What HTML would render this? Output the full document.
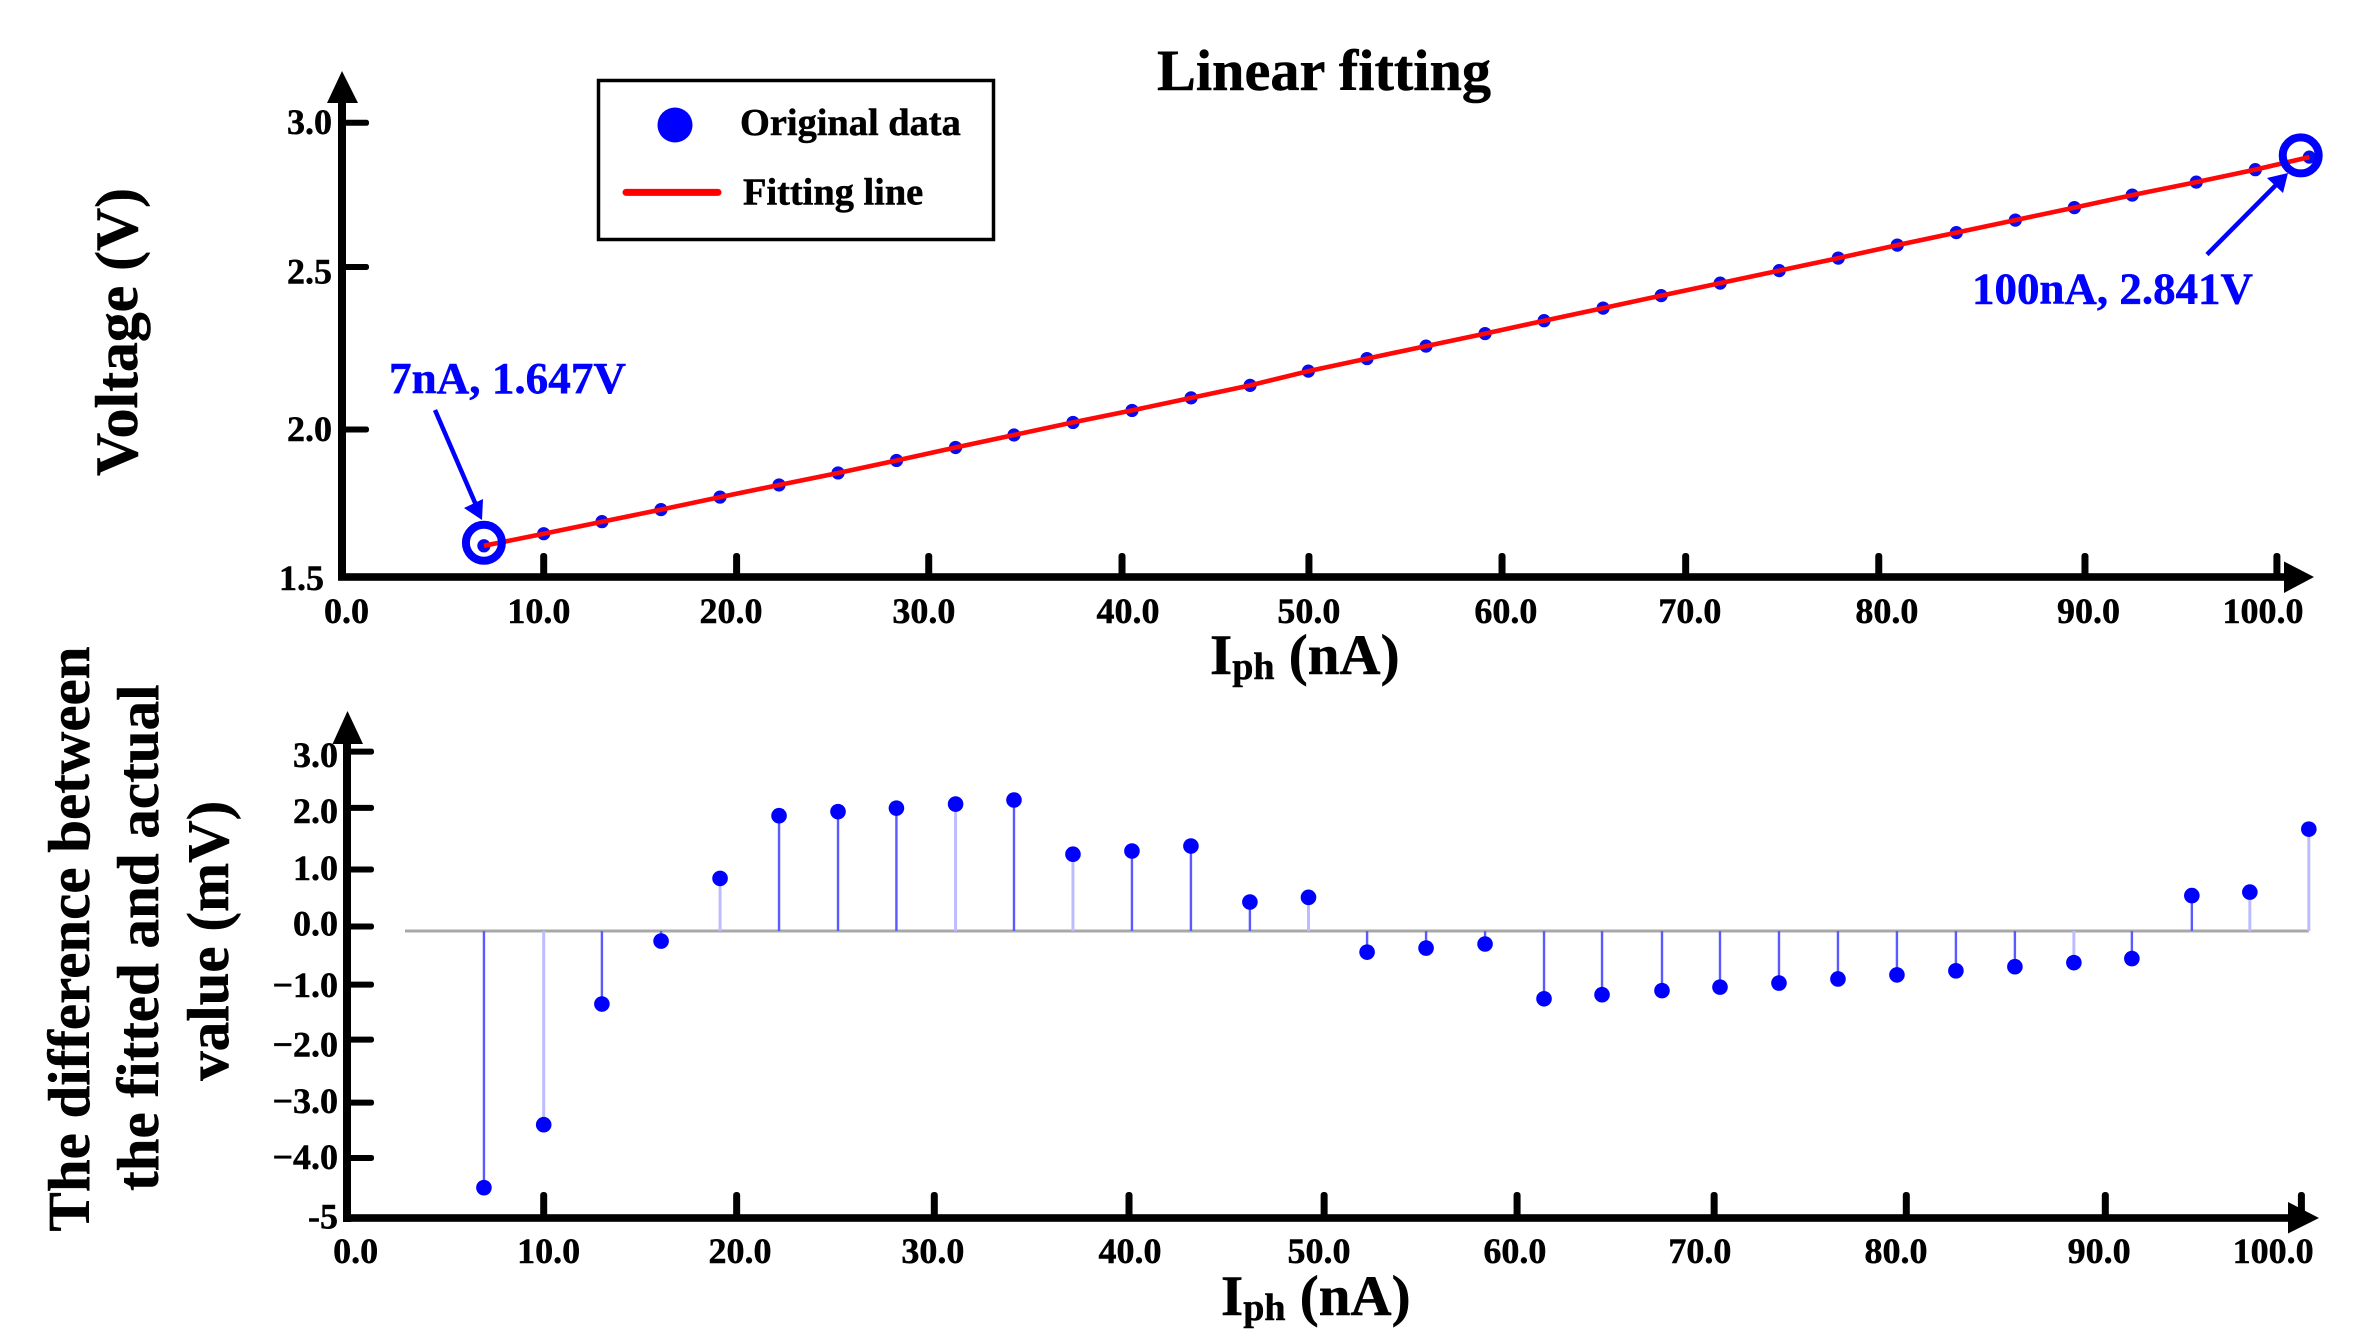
<!DOCTYPE html>
<html>
<head>
<meta charset="utf-8">
<title>Linear fitting</title>
<style>
html,body{margin:0;padding:0;background:#fff;width:2362px;height:1340px;overflow:hidden}
svg{display:block}
text{font-family:"Liberation Serif",serif;font-weight:bold;fill:#000;stroke:#000;stroke-width:.5px}
</style>
</head>
<body>
<svg id="chart" xmlns="http://www.w3.org/2000/svg" width="2362" height="1340" viewBox="0 0 2362 1340">
  <rect x="0" y="0" width="2362" height="1340" fill="#fff"/>
  <text x="1157" y="90" font-size="58" textLength="334" lengthAdjust="spacingAndGlyphs">Linear fitting</text>

  <g id="top-panel"></g>
  <rect x="338" y="100" width="8" height="480" fill="#000"/>
  <polygon points="342,71 358,103 327,103" fill="#000"/>
  <rect x="338" y="573.2" width="1950" height="7.6" fill="#000"/>
  <polygon points="2284,561.5 2314,577 2284,593" fill="#000"/>
  <text transform="translate(137,476) rotate(-90)" font-size="60" textLength="288" lengthAdjust="spacingAndGlyphs">Voltage (V)</text>
  <text x="1210" y="674" font-size="57">I<tspan font-size="38" dy="5">ph</tspan><tspan dy="-5"> (nA)</tspan></text>

  <g>
    <rect x="598.5" y="80.5" width="395" height="159" fill="#fff" stroke="#000" stroke-width="3.5"/>
    <circle cx="675" cy="125" r="17.5" fill="#0000ff"/>
    <text x="740" y="134.8" font-size="38.4">Original data</text>
    <line x1="626" y1="192.4" x2="718" y2="192.4" stroke="#ff0000" stroke-width="7" stroke-linecap="round"/>
    <text x="743" y="204.5" font-size="38.4">Fitting line</text>
  </g>

  <g id="annotations">
    <text x="389" y="393" font-size="44.8" style="fill:#0000ff;stroke:#0000ff" textLength="237" lengthAdjust="spacingAndGlyphs">7nA, 1.647V</text>
    <line x1="435" y1="410" x2="476" y2="505" stroke="#0000ff" stroke-width="4.5"/>
    <polygon points="482,520 464,508 483,499" fill="#0000ff"/>
    <text x="1972" y="303.6" font-size="44.8" style="fill:#0000ff;stroke:#0000ff" textLength="281" lengthAdjust="spacingAndGlyphs">100nA, 2.841V</text>
    <line x1="2207" y1="254.5" x2="2276" y2="185" stroke="#0000ff" stroke-width="4.5"/>
    <polygon points="2288,173 2267,178 2283,193" fill="#0000ff"/>
  </g>

  <g id="bottom-panel"></g>
  <rect x="343" y="741" width="8" height="481" fill="#000"/>
  <polygon points="347.5,711 363,744 332.5,744" fill="#000"/>
  <rect x="343" y="1214.2" width="1950" height="7.6" fill="#000"/>
  <polygon points="2288,1202 2319,1218 2288,1233.5" fill="#000"/>
  <g>
    <text transform="translate(89,1231.5) rotate(-90)" font-size="58.8" textLength="585" lengthAdjust="spacingAndGlyphs">The difference between</text>
    <text transform="translate(158,1191) rotate(-90)" font-size="58.8" textLength="506.5" lengthAdjust="spacingAndGlyphs">the fitted and actual</text>
    <text transform="translate(228,1080.7) rotate(-90)" font-size="58.8" textLength="280" lengthAdjust="spacingAndGlyphs">value (mV)</text>
  </g>
  <text x="1221" y="1315" font-size="57">I<tspan font-size="38" dy="5">ph</tspan><tspan dy="-5"> (nA)</tspan></text>
</svg>

<script>
// ---- Top panel data ----
const currentNA = [6.9,10.0,13.02,16.08,19.14,22.2,25.26,28.29,31.35,34.38,37.44,40.5,43.56,46.62,49.64,52.68,55.74,58.8,61.86,64.92,67.93,70.99,74.05,77.11,80.17,83.23,86.29,89.35,92.35,95.67,98.73,101.53];
const voltageV = [1.6025,1.6424,1.6822,1.7221,1.7634,1.8034,1.8431,1.8844,1.9273,1.9685,2.01,2.0497,2.0911,2.1324,2.1795,2.221,2.2622,2.3036,2.3463,2.3878,2.429,2.4703,2.5116,2.553,2.5959,2.6371,2.6785,2.7198,2.7611,2.804,2.8452,2.8866];
const fittedV = [1.6025,1.6424,1.6822,1.7221,1.7634,1.8034,1.8431,1.8844,1.9273,1.9685,2.01,2.0497,2.0911,2.1324,2.1795,2.221,2.2622,2.3036,2.3463,2.3878,2.429,2.4703,2.5116,2.553,2.5959,2.6371,2.6785,2.7198,2.7611,2.804,2.8452,2.8866];
const topXTicks = [10,20,29.96,39.98,49.67,59.68,69.2,79.21,89.9,99.85];
const topXLabels = ["0.0","10.0","20.0","30.0","40.0","50.0","60.0","70.0","80.0","90.0","100.0"];
const topXLabelAt = [-0.22,9.75,19.71,29.71,40.29,49.67,59.88,69.42,79.63,90.08,99.13];
const topYTicks = [3.0,2.5235,1.9867];
const topYLabels = ["3.0","2.5","2.0","1.5"];
const topYLabelAt = [3.003,2.509,1.988,1.496];

// ---- Bottom panel data ----
const diffCurrentNA = [6.94,10.0,12.98,16.01,19.03,22.05,25.07,28.06,31.09,34.08,37.1,40.12,43.14,46.16,49.16,52.16,55.18,58.2,61.22,64.19,67.26,70.23,73.25,76.27,79.29,82.31,85.33,88.35,91.32,94.39,97.36,100.38];
const diffMV = [-4.48,-3.4,-1.33,-0.25,0.825,1.9,1.97,2.03,2.1,2.17,1.24,1.295,1.38,0.42,0.5,-0.44,-0.37,-0.3,-1.24,-1.17,-1.1,-1.04,-0.97,-0.9,-0.83,-0.76,-0.69,-0.62,-0.55,0.53,0.59,1.67];
const zeroLineMV = [-0.077];
const botXTicks = [10,19.88,30,39.97,49.96,59.84,69.93,79.77,89.96,100];
const botXLabels = ["0.0","10.0","20.0","30.0","40.0","50.0","60.0","70.0","80.0","90.0","100.0"];
const botXLabelAt = [0.37,10.25,20.05,29.93,40.02,49.7,59.73,69.2,79.24,89.64,98.55];
const botYTicks = [3,2.034,0.978,0,-0.997,-1.94,-3.02,-3.97];
const botYLabels = ["3.0","2.0","1.0","0.0","\u22121.0","\u22122.0","\u22123.0","\u22124.0","-5"];
const botYLabelAt = [2.942,1.981,1.006,0.051,-1.003,-2.024,-2.995,-3.956,-4.97];

// ---- Axis functions ----
function xTop(v){ return 350.8 + 19.29 * v; }
function yTop(v){ return 576.8 - (v - 1.5) * 302.67; }
function xBot(v){ return 348.4 + 19.53 * v; }
function yBot(v){ return 926.5 - v * 58.3; }

const NS = 'http://www.w3.org/2000/svg';
function make(parent, tag, props){
  const el = document.createElementNS(NS, tag);
  for (const k in props) el.setAttribute(k, props[k]);
  parent.appendChild(el);
  return el;
}

const topG = document.getElementById('top-panel');
const botG = document.getElementById('bottom-panel');
const annG = document.getElementById('annotations');

// Top ticks
topXTicks.forEach(function(v){
  const el = make(topG, 'rect', {x: xTop(v) - 3.5, y: 553, width: 7, height: 26, rx: 3, fill: '#000'});
  
  
});
topXLabels.forEach(function(s, i){
  const el = make(topG, 'text', {x: xTop(topXLabelAt[i]), y: 622.8, 'font-size': 36, 'text-anchor': 'middle'});
  el.textContent = s;
  
  
});
topYTicks.forEach(function(v){
  const el = make(topG, 'rect', {x: 342, y: yTop(v) - 3, width: 27, height: 6, rx: 2.5, fill: '#000'});
  
  
});
topYLabels.forEach(function(s, i){
  const right = i === topYLabels.length - 1 ? 324 : 332;
  const el = make(topG, 'text', {x: right, y: yTop(topYLabelAt[i]) + 12, 'font-size': 36, 'text-anchor': 'end'});
  el.textContent = s;
  
  
});

// Top points then fitting line
currentNA.forEach(function(v, i){
  const el = make(topG, 'circle', {cx: xTop(v), cy: yTop(voltageV[i]), r: 6.6, fill: '#0a0aee'});
  
  
});
const fitPoints = currentNA.map(function(v, i){ return xTop(v).toFixed(1) + ',' + yTop(fittedV[i]).toFixed(1); }).join(' ');
const fitLine = make(topG, 'polyline', {points: fitPoints, fill: 'none', stroke: '#ff0808', 'stroke-width': 4.6});



// Highlight rings around first and last points
const ringFirst = make(annG, 'circle', {cx: xTop(currentNA[0]), cy: yTop(voltageV[0]) - 3, r: 18, fill: 'none', stroke: '#0000ff', 'stroke-width': 8});


const lastIdx = currentNA.length - 1;
const ringLast = make(annG, 'circle', {cx: xTop(currentNA[lastIdx]) - 8.6, cy: yTop(voltageV[lastIdx]) - 1.7, r: 18, fill: 'none', stroke: '#0000ff', 'stroke-width': 8});



// Bottom ticks
botXTicks.forEach(function(v){
  const el = make(botG, 'rect', {x: xBot(v) - 3.5, y: 1192, width: 7, height: 28, rx: 3, fill: '#000'});
  
  
});
botXLabels.forEach(function(s, i){
  const el = make(botG, 'text', {x: xBot(botXLabelAt[i]), y: 1262.8, 'font-size': 36, 'text-anchor': 'middle'});
  el.textContent = s;
  
  
});
botYTicks.forEach(function(v){
  const el = make(botG, 'rect', {x: 347, y: yBot(v) - 3, width: 27, height: 6, rx: 2.5, fill: '#000'});
  
  
});
botYLabels.forEach(function(s, i){
  const el = make(botG, 'text', {x: 338, y: yBot(botYLabelAt[i]) + 12, 'font-size': 36, 'text-anchor': 'end'});
  el.textContent = s;
  
  
});

// Zero line, stems, points
const zeroLine = make(botG, 'line', {x1: 405, x2: xBot(diffCurrentNA[diffCurrentNA.length - 1]), y1: yBot(zeroLineMV[0]), y2: yBot(zeroLineMV[0]), stroke: '#a8a8a8', 'stroke-width': 3});


// Some stems render paler and wider in the source figure
const paleStemIndexes = new Set([1, 4, 8, 10, 14, 27, 30, 31]);
diffCurrentNA.forEach(function(v, i){
  const pale = paleStemIndexes.has(i);
  const stem = make(botG, 'line', {x1: xBot(v), x2: xBot(v), y1: yBot(zeroLineMV[0]), y2: yBot(diffMV[i]), stroke: pale ? '#bcbcff' : '#5a5aff', 'stroke-width': pale ? 3 : 2.4});
  
  
  const dot = make(botG, 'circle', {cx: xBot(v), cy: yBot(diffMV[i]), r: 7.8, fill: '#0000ff'});
  
  
});
</script>
</body>
</html>
